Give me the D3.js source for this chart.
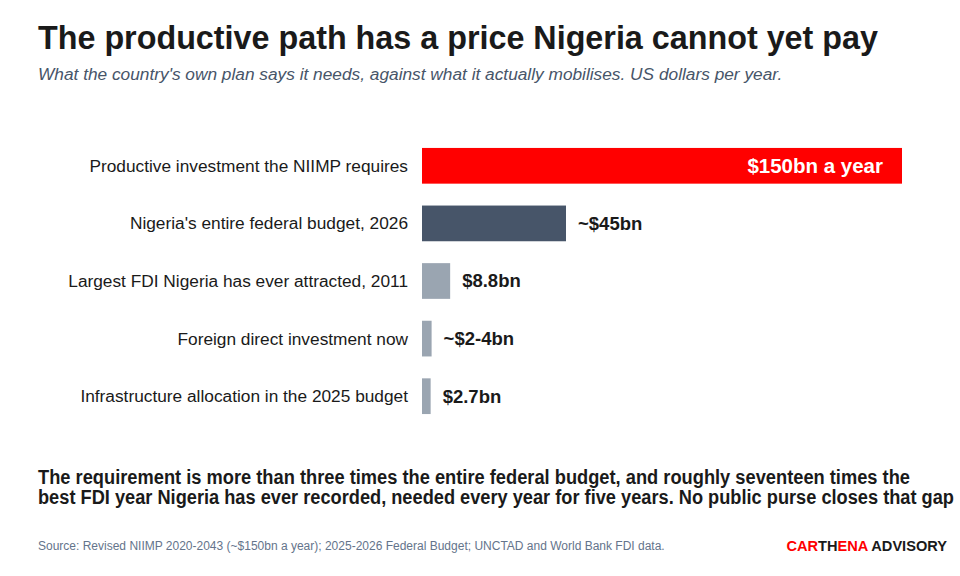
<!DOCTYPE html>
<html><head><meta charset="utf-8">
<script src="https://cdn.jsdelivr.net/npm/d3@7"></script>
<style>body{margin:0;background:#fff;font-family:"Liberation Sans",Arial,sans-serif}</style>
</head><body><svg id="c" width="960" height="576"></svg>
<script>
const categories=["Productive investment the NIIMP requires","Nigeria's entire federal budget, 2026","Largest FDI Nigeria has ever attracted, 2011","Foreign direct investment now","Infrastructure allocation in the 2025 budget"];
const values=[150,45,8.8,3,2.7];
const valueLabels=["$150bn a year","~$45bn","$8.8bn","~$2-4bn","$2.7bn"];
const colors=["#ff0000","#475569","#9aa5b1","#9aa5b1","#9aa5b1"];
const svg=d3.select("#c");
const x=d3.scaleLinear().domain([0,150]).range([422,902]);
const y=d3.scaleBand().domain(categories).range([137,425]).paddingInner(0.38).paddingOuter(0.19);
svg.append("text").attr("x",38).attr("y",49).attr("font-size",32.3).attr("font-weight","bold").attr("fill","#1a1a1a").text("The productive path has a price Nigeria cannot yet pay");
svg.append("text").attr("x",38).attr("y",80).attr("font-size",17.3).attr("font-style","italic").attr("fill","#475569").text("What the country's own plan says it needs, against what it actually mobilises. US dollars per year.");
const g=svg.append("g");
categories.forEach((c,i)=>{
  const yy=y(c),h=y.bandwidth();
  g.append("rect").attr("x",x(0)).attr("y",yy).attr("width",x(values[i])-x(0)).attr("height",h).attr("fill",colors[i]);
  g.append("text").attr("x",408).attr("y",yy+h/2).attr("dy","0.35em").attr("text-anchor","end").attr("font-size",17.3).attr("fill","#1a1a1a").text(c);
  if(i===0) g.append("text").attr("x",x(values[i])-19).attr("y",yy+h/2).attr("dy","0.35em").attr("text-anchor","end").attr("font-size",20.5).attr("font-weight","bold").attr("fill","#fff").text(valueLabels[i]);
  else g.append("text").attr("x",x(values[i])+12).attr("y",yy+h/2).attr("dy","0.35em").attr("font-size",18.5).attr("font-weight","bold").attr("fill","#1a1a1a").text(valueLabels[i]);
});
const lines=[["The requirement is more than three times the entire federal budget, and roughly seventeen times the",484,872],["best FDI year Nigeria has ever recorded, needed every year for five years. No public purse closes that gap",504,916]];
lines.forEach(([t,yy,w])=>svg.append("text").attr("x",38).attr("y",yy).attr("font-size",19.5).attr("font-weight","bold").attr("fill","#1a1a1a").attr("textLength",w).attr("lengthAdjust","spacingAndGlyphs").text(t));
svg.append("text").attr("x",38).attr("y",550).attr("font-size",12).attr("fill","#64748b").text("Source: Revised NIIMP 2020-2043 (~$150bn a year); 2025-2026 Federal Budget; UNCTAD and World Bank FDI data.");
const l=svg.append("text").attr("x",947).attr("y",551).attr("text-anchor","end").attr("font-size",14.6).attr("font-weight","bold");
[["CAR","#ff0000"],["TH","#1a1a1a"],["ENA","#ff0000"],[" ADVISORY","#1a1a1a"]].forEach(([t,c])=>l.append("tspan").attr("fill",c).text(t));
</script></body></html>
